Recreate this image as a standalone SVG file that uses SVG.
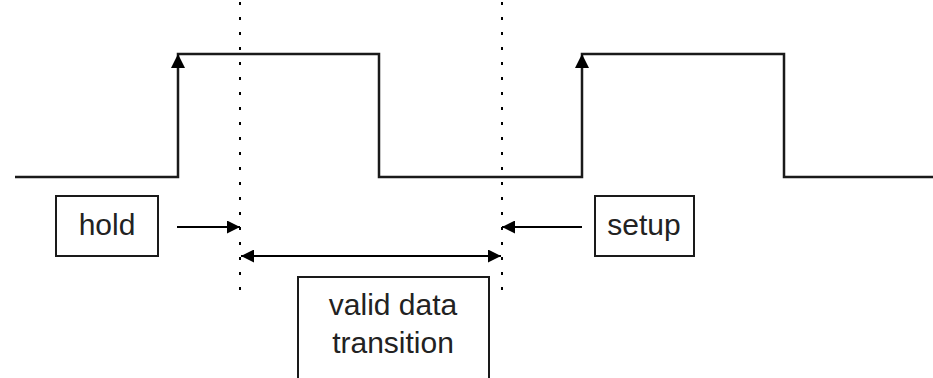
<svg xmlns="http://www.w3.org/2000/svg" width="933" height="378" viewBox="0 0 933 378">
<style>
.w{fill:none;stroke:#1a1a1a;stroke-width:2.5}
.d{fill:none;stroke:#000;stroke-width:2;stroke-dasharray:3 12}
.b{fill:#fff;stroke:#1a1a1a;stroke-width:2}
.a{fill:none;stroke:#000;stroke-width:2}
.t{font-family:"Liberation Sans",Arial,sans-serif;font-size:30px;fill:#222;text-anchor:middle}
</style>
<defs>
<marker id="ah2" viewBox="0 0 10 10" refX="10" refY="5" markerWidth="13" markerHeight="13" markerUnits="userSpaceOnUse" orient="auto-start-reverse">
<path d="M0,0 L10,5 L0,10 z" fill="#000"/>
</marker>
</defs>
<rect width="933" height="378" fill="#fff"/>
<g id="waveform">
<path class="w" d="M15,177 H178 V54 H379 V177 H582 V54 H784 V177 H933"/>
<path d="M178,54 l-7,14 h14 z" fill="#000"/>
<path d="M582,54 l-7,14 h14 z" fill="#000"/>
</g>
<g id="guides">
<line class="d" x1="240" y1="2" x2="240" y2="300"/>
<line class="d" x1="502" y1="2" x2="502" y2="300"/>
</g>
<g id="connectors">
<line class="a" x1="177" y1="227" x2="240" y2="227" marker-end="url(#ah2)"/>
<line class="a" x1="582" y1="227" x2="502" y2="227" marker-end="url(#ah2)"/>
<line class="a" x1="241" y1="256" x2="501" y2="256" marker-start="url(#ah2)" marker-end="url(#ah2)"/>
</g>
<g id="hold">
<rect class="b" x="56" y="196" width="102" height="60"/>
<text class="t" x="107" y="235">hold</text>
</g>
<g id="setup">
<rect class="b" x="595" y="196" width="99" height="60"/>
<text class="t" x="644" y="235">setup</text>
</g>
<g id="valid">
<rect class="b" x="298" y="277" width="191" height="104"/>
<text class="t" x="393" y="315">valid data</text>
<text class="t" x="393" y="353">transition</text>
</g>
</svg>
